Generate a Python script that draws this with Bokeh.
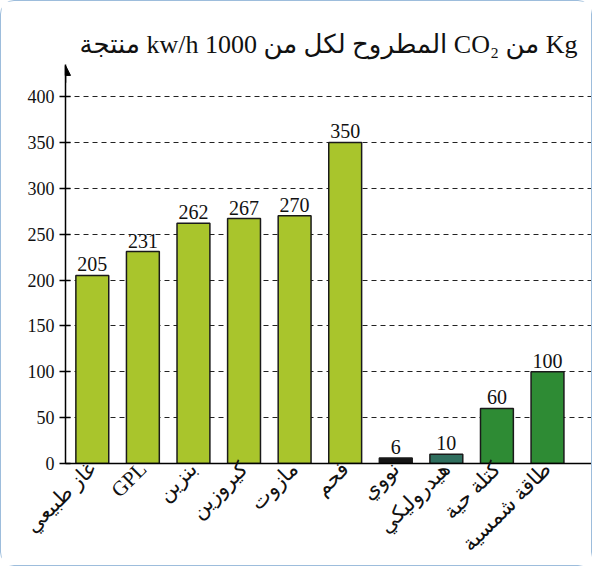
import math
from bokeh.plotting import figure
from bokeh.models import LabelSet, Arrow, NormalHead, ColumnDataSource, FixedTicker, Range1d
from bokeh.core.properties import value
from bokeh.embed import file_html
from bokeh.resources import INLINE

categories = ["غاز طبيعي", "GPL", "بنزين", "كيروزين", "مازوت", "فحم",
              "نووي", "هيدروليكي", "كتلة حية", "طاقة شمسية"]
values = [205, 231, 262, 267, 270, 350, 6, 10, 60, 100]
colors = ["#a9c52c", "#a9c52c", "#a9c52c", "#a9c52c", "#a9c52c", "#a9c52c",
          "#151515", "#2f6e5e", "#2e8b34", "#2e8b34"]
y_ticks = [0, 50, 100, 150, 200, 250, 300, 350, 400]
title_text = "\u202bKg من CO₂ المطروح لكل من 1000 kw/h منتجة\u202c"

SERIF = "Liberation Serif, DejaVu Sans"

positions = [i + 0.5 for i in range(len(categories))]
src = ColumnDataSource(dict(x=positions, val=values, color=colors,
                            label=[str(v) for v in values]))

p = figure(x_range=Range1d(-0.03, 10.37), y_range=Range1d(0, 435),
           width=592, height=566,
           output_backend="svg", toolbar_location=None,
           min_border_left=64, min_border_right=2, min_border_top=63,
           min_border_bottom=100)
p.outline_line_color = None
p.background_fill_color = "white"
p.border_fill_color = "white"
p.styles = {"border": "1.5px solid #9dbddc", "border-radius": "14px"}

p.title.text = title_text
p.title.align = "center"
p.title.text_font = SERIF
p.title.text_font_size = "26px"
p.title.text_font_style = "normal"
p.title.text_color = "#111111"
p.title.standoff = 12

p.vbar(x="x", top="val", width=0.65, fill_color="color",
       line_color="#1a1a1a", line_width=1.5, source=src)

p.add_layout(LabelSet(x="x", y="val", text="label", source=src, y_offset=4,
                      text_align="center", text_baseline="bottom",
                      text_font=value(SERIF), text_font_size="20px",
                      text_color="#111111"))

# grid
p.xgrid.grid_line_color = None
p.ygrid.ticker = FixedTicker(ticks=y_ticks[1:])
p.ygrid.grid_line_color = "#222222"
p.ygrid.grid_line_dash = "5 4"
p.ygrid.grid_line_width = 1.2

# y axis
p.yaxis.ticker = FixedTicker(ticks=y_ticks)
p.yaxis.axis_line_color = "black"
p.yaxis.axis_line_width = 1.5
p.yaxis.major_tick_in = 5
p.yaxis.major_tick_out = 6
p.yaxis.major_tick_line_width = 1.5
p.yaxis.minor_tick_line_color = None
p.yaxis.major_label_text_font = SERIF
p.yaxis.major_label_text_font_size = "18px"
p.yaxis.major_label_text_color = "#111111"

# x axis
p.xaxis.ticker = FixedTicker(ticks=positions)
p.xaxis.major_label_overrides = {pos: cat for pos, cat in zip(positions, categories)}
p.xaxis.axis_line_color = "black"
p.xaxis.axis_line_width = 1.5
p.xaxis.major_tick_line_color = None
p.xaxis.major_tick_out = 0
p.xaxis.major_tick_in = 0
p.xaxis.major_label_standoff = 2
p.xaxis.minor_tick_line_color = None
p.xaxis.major_label_orientation = math.pi / 4
p.xaxis.major_label_text_font = SERIF
p.xaxis.major_label_text_font_size = "21px"
p.xaxis.major_label_text_color = "#111111"

# arrow at top of y axis
p.add_layout(Arrow(x_start=-0.03, y_start=415, x_end=-0.03, y_end=434,
                   end=NormalHead(size=10, fill_color="black", line_color="black"),
                   line_color="black", line_width=1.5))

open("out.html", "w").write(file_html(p, INLINE))
